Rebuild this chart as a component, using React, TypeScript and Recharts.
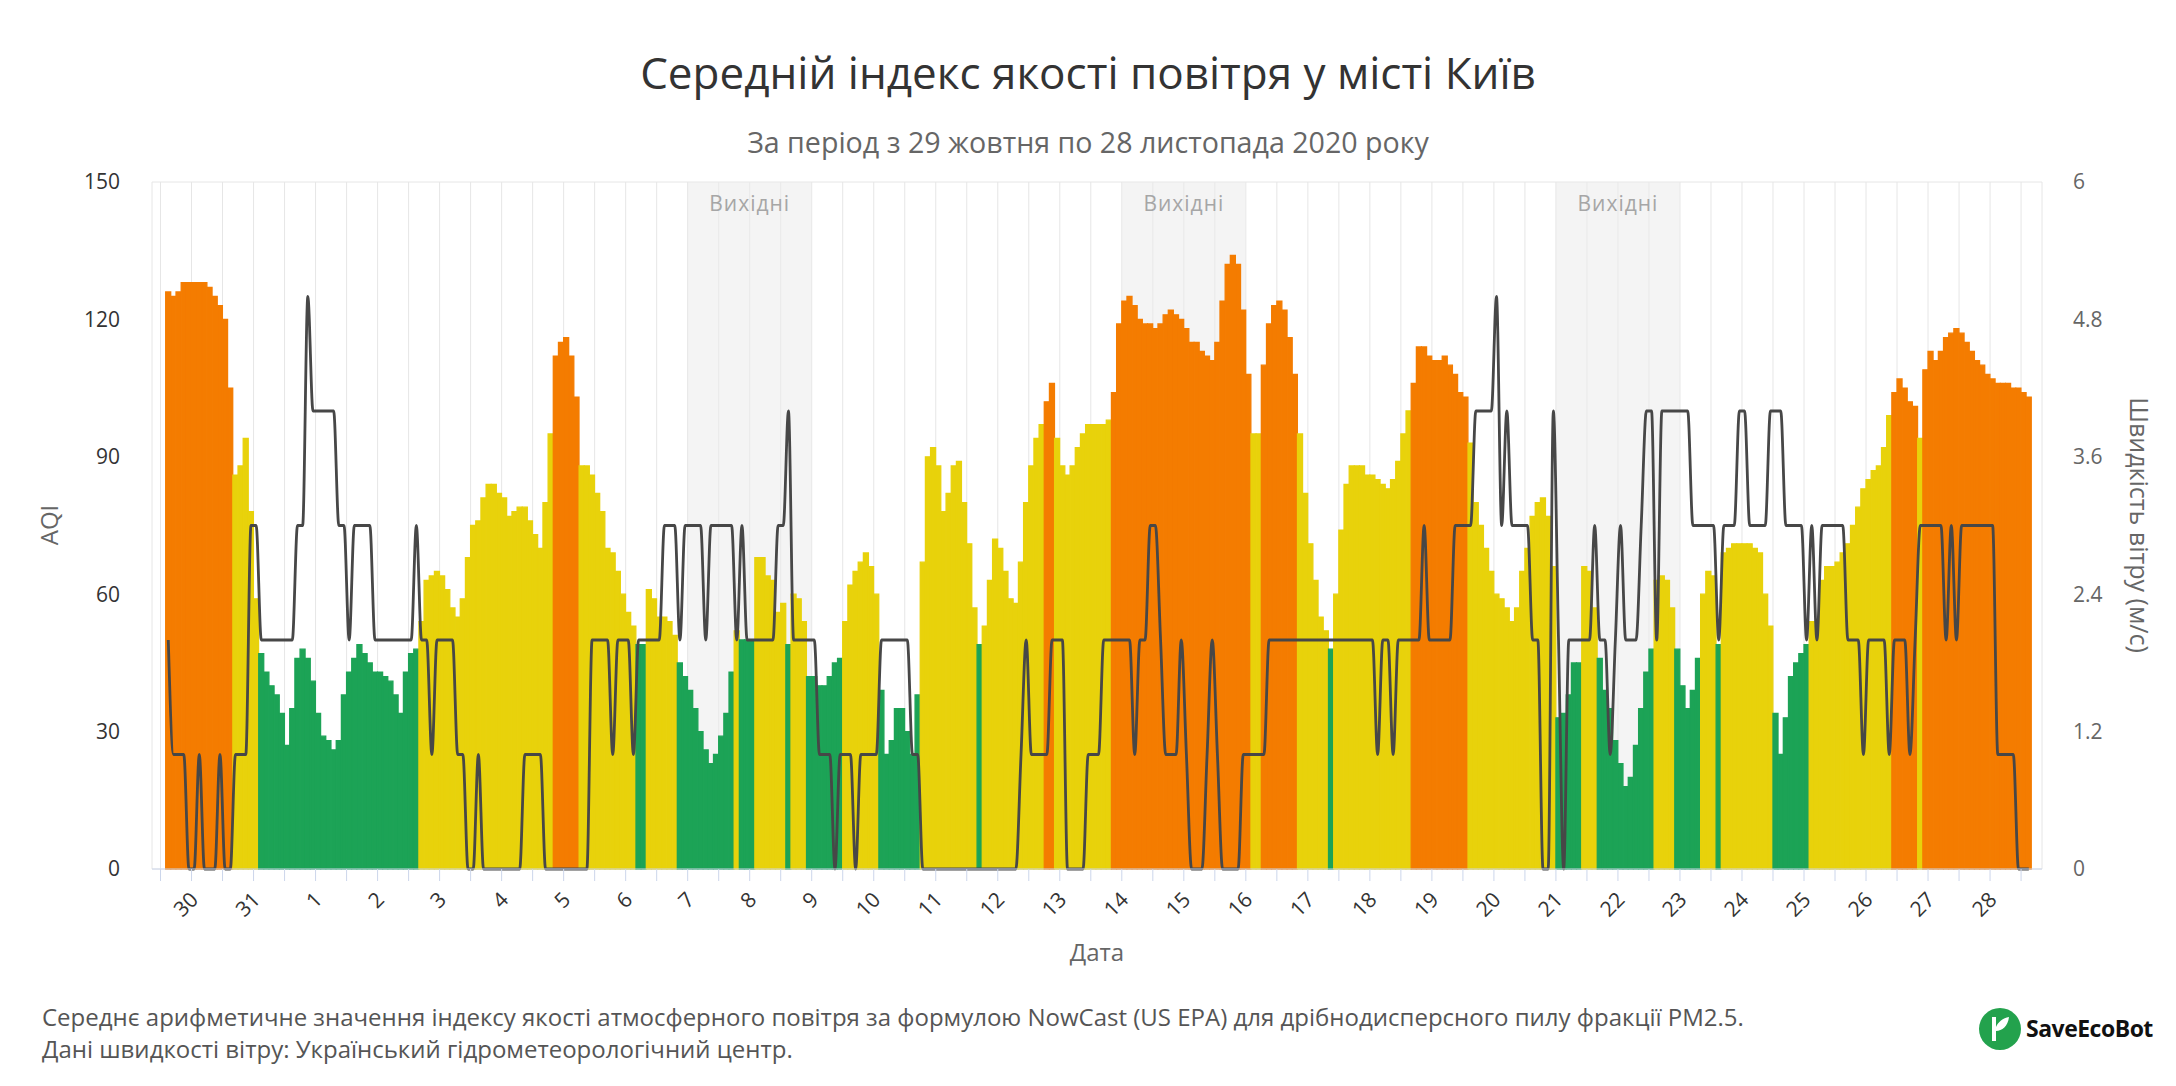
import React from 'react';
import {
  ComposedChart,
  Bar,
  Line,
  XAxis,
  YAxis,
  CartesianGrid,
  ReferenceArea,
  Cell,
} from 'recharts';

// hourly AQI (NowCast) sampled every 2 hours, starting 29 Oct 14:00
const firstHour = -10; // hours from 30 Oct 00:00
const stepHours = 2;

const aqiValues = [
  126, 125, 126, 128, 128, 128, 128, 128, 127, 125, 123, 120,
  105, 86, 88, 94, 78, 59, 47, 43, 40, 38, 34, 27,
  35, 46, 48, 46, 41, 34, 29, 28, 26, 28, 38, 43,
  46, 49, 47, 45, 43, 43, 42, 41, 38, 34, 43, 47,
  48, 54, 63, 64, 65, 64, 61, 57, 55, 59, 68, 75,
  76, 81, 84, 84, 82, 81, 77, 78, 79, 79, 76, 73,
  70, 80, 95, 112, 115, 116, 112, 103, 88, 88, 86, 82,
  78, 70, 69, 65, 60, 56, 53, 49, 49, 61, 59, 55,
  55, 54, 51, 45, 42, 39, 35, 30, 26, 23, 25, 29,
  34, 43, 52, 50, 50, 50, 68, 68, 64, 63, 56, 58,
  49, 60, 59, 54, 42, 42, 40, 40, 42, 45, 46, 54,
  62, 65, 67, 69, 66, 60, 39, 25, 28, 35, 35, 30,
  25, 38, 67, 90, 92, 88, 78, 82, 88, 89, 80, 71,
  57, 49, 53, 63, 72, 70, 65, 59, 58, 67, 80, 88,
  94, 97, 102, 106, 94, 88, 86, 88, 92, 95, 97, 97,
  97, 97, 98, 104, 119, 124, 125, 123, 120, 119, 119, 118,
  119, 121, 122, 121, 120, 118, 115, 115, 113, 112, 111, 115,
  124, 132, 134, 132, 122, 108, 95, 95, 110, 119, 123, 124,
  122, 116, 108, 95, 82, 71, 63, 55, 52, 48, 60, 74,
  84, 88, 88, 88, 86, 86, 85, 84, 83, 85, 89, 95,
  100, 106, 114, 114, 112, 111, 111, 112, 110, 108, 104, 103,
  93, 80, 75, 70, 65, 60, 59, 57, 54, 57, 65, 70,
  77, 80, 81, 77, 66, 33, 34, 38, 45, 45, 66, 65,
  57, 46, 39, 35, 28, 23, 18, 20, 27, 35, 43, 48,
  63, 64, 63, 57, 48, 40, 35, 39, 46, 60, 65, 64,
  49, 69, 70, 71, 71, 71, 71, 70, 69, 60, 53, 34,
  25, 33, 42, 45, 47, 49, 54, 53, 63, 66, 66, 67,
  69, 71, 75, 79, 83, 85, 87, 88, 92, 99, 104, 107,
  105, 102, 101, 94, 109, 113, 111, 113, 116, 117, 118, 117,
  115, 113, 111, 110, 108, 107, 106, 106, 106, 105, 105, 104,
  103,
];

// wind speed, m/s, same time points
const windValues = [
  2, 1, 1, 1, 0, 0, 1, 0, 0, 0, 1, 0,
  0, 1, 1, 1, 3, 3, 2, 2, 2, 2, 2, 2,
  2, 3, 3, 5, 4, 4, 4, 4, 4, 3, 3, 2,
  3, 3, 3, 3, 2, 2, 2, 2, 2, 2, 2, 2,
  3, 2, 2, 1, 2, 2, 2, 2, 1, 1, 0, 0,
  1, 0, 0, 0, 0, 0, 0, 0, 0, 1, 1, 1,
  1, 0, 0, 0, 0, 0, 0, 0, 0, 0, 2, 2,
  2, 2, 1, 2, 2, 2, 1, 2, 2, 2, 2, 2,
  3, 3, 3, 2, 3, 3, 3, 3, 2, 3, 3, 3,
  3, 3, 2, 3, 2, 2, 2, 2, 2, 2, 3, 3,
  4, 2, 2, 2, 2, 2, 1, 1, 1, 0, 1, 1,
  1, 0, 1, 1, 1, 1, 2, 2, 2, 2, 2, 2,
  1, 1, 0, 0, 0, 0, 0, 0, 0, 0, 0, 0,
  0, 0, 0, 0, 0, 0, 0, 0, 0, 1, 2, 1,
  1, 1, 1, 2, 2, 2, 0, 0, 0, 0, 1, 1,
  1, 2, 2, 2, 2, 2, 2, 1, 2, 2, 3, 3,
  2, 1, 1, 1, 2, 1, 0, 0, 0, 1, 2, 1,
  0, 0, 0, 0, 1, 1, 1, 1, 1, 2, 2, 2,
  2, 2, 2, 2, 2, 2, 2, 2, 2, 2, 2, 2,
  2, 2, 2, 2, 2, 2, 1, 2, 2, 1, 2, 2,
  2, 2, 2, 3, 2, 2, 2, 2, 2, 3, 3, 3,
  3, 4, 4, 4, 4, 5, 3, 4, 3, 3, 3, 3,
  2, 2, 0, 0, 4, 2, 0, 2, 2, 2, 2, 2,
  3, 2, 2, 1, 2, 3, 2, 2, 2, 3, 4, 4,
  2, 4, 4, 4, 4, 4, 4, 3, 3, 3, 3, 3,
  2, 3, 3, 3, 4, 4, 3, 3, 3, 3, 4, 4,
  4, 3, 3, 3, 3, 2, 3, 2, 3, 3, 3, 3,
  3, 2, 2, 2, 1, 2, 2, 2, 2, 1, 2, 2,
  2, 1, 2, 3, 3, 3, 3, 3, 2, 3, 2, 3,
  3, 3, 3, 3, 3, 3, 1, 1, 1, 1, 0, 0,
  0,
];

// day-of-month labels at each midnight from 30 Oct to 28 Nov
const dayLabels = [
  '30', '31', '1', '2', '3', '4', '5', '6', '7', '8', '9', '10', '11', '12', '13',
  '14', '15', '16', '17', '18', '19', '20', '21', '22', '23', '24', '25', '26', '27', '28',
];

// weekends: index into dayLabels of each Saturday
const weekendStartDays = [8, 15, 22];

const aqiTicks = [0, 30, 60, 90, 120, 150];
const windTicks = [0, 1.2, 2.4, 3.6, 4.8, 6];

const GREEN = '#1ca356';
const YELLOW = '#e8d20b';
const ORANGE = '#f47c00';

const aqiColor = (v: number) => (v <= 50 ? GREEN : v <= 100 ? YELLOW : ORANGE);

const data = aqiValues.map((v, i) => ({
  t: firstHour + stepHours * i + stepHours / 2,
  aqi: v,
  wind: windValues[i],
}));

const xTicks: number[] = [];
for (let h = -12; h <= 708; h += 12) xTicks.push(h);

const FONT = '"Open Sans", "Noto Sans", sans-serif';

const DayTick = (props: any) => {
  const { x, y, payload } = props;
  const v = payload.value;
  if (v % 24 !== 0) return <g />;
  const label = dayLabels[v / 24];
  const ax = x + 8;
  const ay = y + 18;
  return (
    <text
      x={ax}
      y={ay}
      transform={`rotate(-45 ${ax} ${ay})`}
      textAnchor="end"
      fontSize={21}
      fill="#333"
      fontFamily={FONT}
    >
      {label}
    </text>
  );
};

const Logo = () => (
  <svg width={180} height={50} viewBox="0 0 180 50">
    <circle cx={22} cy={25} r={21} fill="#23a24d" />
    <path d="M14 13 L14 37 L18 37 L18 27 C24 27 30 22 31 13 C25 14 20 18 18 23 L18 13 Z" fill="#fff" />
    <text x={48} y={33} fontSize={23} fontWeight={700} fill="#111" fontFamily={FONT} letterSpacing={-0.5}>
      SaveEcoBot
    </text>
  </svg>
);

const App = () => {
  return (
    <div
      style={{
        position: 'absolute',
        left: 0,
        top: 0,
        width: 2176,
        height: 1086,
        background: '#fff',
        fontFamily: FONT,
        overflow: 'hidden',
      }}
    >
      <div
        style={{
          position: 'absolute',
          top: 72,
          width: '100%',
          textAlign: 'center',
          fontSize: 44,
          lineHeight: '60px',
          marginTop: -30,
          color: '#333',
        }}
      >
        Середній індекс якості повітря у місті Київ
      </div>
      <div
        style={{
          position: 'absolute',
          top: 142,
          width: '100%',
          textAlign: 'center',
          fontSize: 28.6,
          lineHeight: '40px',
          marginTop: -20,
          color: '#666',
        }}
      >
        За період з 29 жовтня по 28 листопада 2020 року
      </div>

      <div style={{ position: 'absolute', left: 0, top: 0 }}>
        <ComposedChart
          width={2176}
          height={1086}
          data={data}
          margin={{ top: 182, right: 0, bottom: 137, left: 0 }}
          barCategoryGap={0}
          barGap={0}
        >
          <CartesianGrid stroke="#e6e6e6" ticks={xTicks as any} />
          {weekendStartDays.map((d) => (
            <ReferenceArea
              key={d}
              yAxisId="aqi"
              x1={d * 24}
              x2={d * 24 + 48}
              fill="#ebebeb"
              fillOpacity={0.55}
              stroke="none"
              label={{
                value: 'Вихідні',
                position: 'insideTop',
                fill: '#a6a6a6',
                fontSize: 21,
                offset: 14,
                fontFamily: FONT,
                letterSpacing: 1,
              }}
            />
          ))}
          <XAxis
            dataKey="t"
            type="number"
            domain={[-15.3, 716.1]}
            ticks={xTicks}
            interval={0}
            height={80}
            tick={<DayTick />}
            tickSize={12}
            stroke="#ccd6eb"
            allowDataOverflow
          />
          <YAxis
            yAxisId="aqi"
            domain={[0, 150]}
            ticks={aqiTicks}
            width={152}
            axisLine={false}
            tickLine={false}
            tickSize={6}
            tickMargin={26}
            tick={{ fill: '#333', fontSize: 21, fontFamily: FONT }}
          />
          <YAxis
            yAxisId="wind"
            orientation="right"
            domain={[0, 6]}
            ticks={windTicks}
            width={134}
            axisLine={false}
            tickLine={false}
            tickSize={6}
            tickMargin={25}
            tick={{ fill: '#666', fontSize: 21, fontFamily: FONT }}
          />
          <Bar dataKey="aqi" yAxisId="aqi" isAnimationActive={false}>
            {data.map((d, i) => (
              <Cell key={i} fill={aqiColor(d.aqi)} stroke={aqiColor(d.aqi)} strokeWidth={1.3} />
            ))}
          </Bar>
          <Line
            dataKey="wind"
            yAxisId="wind"
            type="monotone"
            stroke="#474747"
            strokeWidth={2.8}
            dot={false}
            activeDot={false}
            isAnimationActive={false}
          />
        </ComposedChart>
      </div>

      <div
        style={{
          position: 'absolute',
          left: 48,
          top: 525,
          transform: 'translate(-50%, -50%) rotate(-90deg)',
          fontSize: 24,
          color: '#666',
        }}
      >
        AQI
      </div>
      <div
        style={{
          position: 'absolute',
          left: 2140,
          top: 525,
          transform: 'translate(-50%, -50%) rotate(90deg)',
          fontSize: 25,
          color: '#666',
          whiteSpace: 'nowrap',
        }}
      >
        Швидкість вітру (м/с)
      </div>
      <div
        style={{
          position: 'absolute',
          left: 1097,
          top: 951,
          transform: 'translate(-50%, -50%)',
          fontSize: 24,
          color: '#666',
        }}
      >
        Дата
      </div>

      <div style={{ position: 'absolute', left: 42, top: 1001, fontSize: 24, color: '#555', lineHeight: '32px' }}>
        <div>
          Середнє арифметичне значення індексу якості атмосферного повітря за формулою NowCast (US EPA) для
          дрібнодисперсного пилу фракції PM2.5.
        </div>
        <div>Дані швидкості вітру: Український гідрометеорологічний центр.</div>
      </div>
      <div style={{ position: 'absolute', left: 1978, top: 1004 }}>
        <Logo />
      </div>
    </div>
  );
};

export default App;
